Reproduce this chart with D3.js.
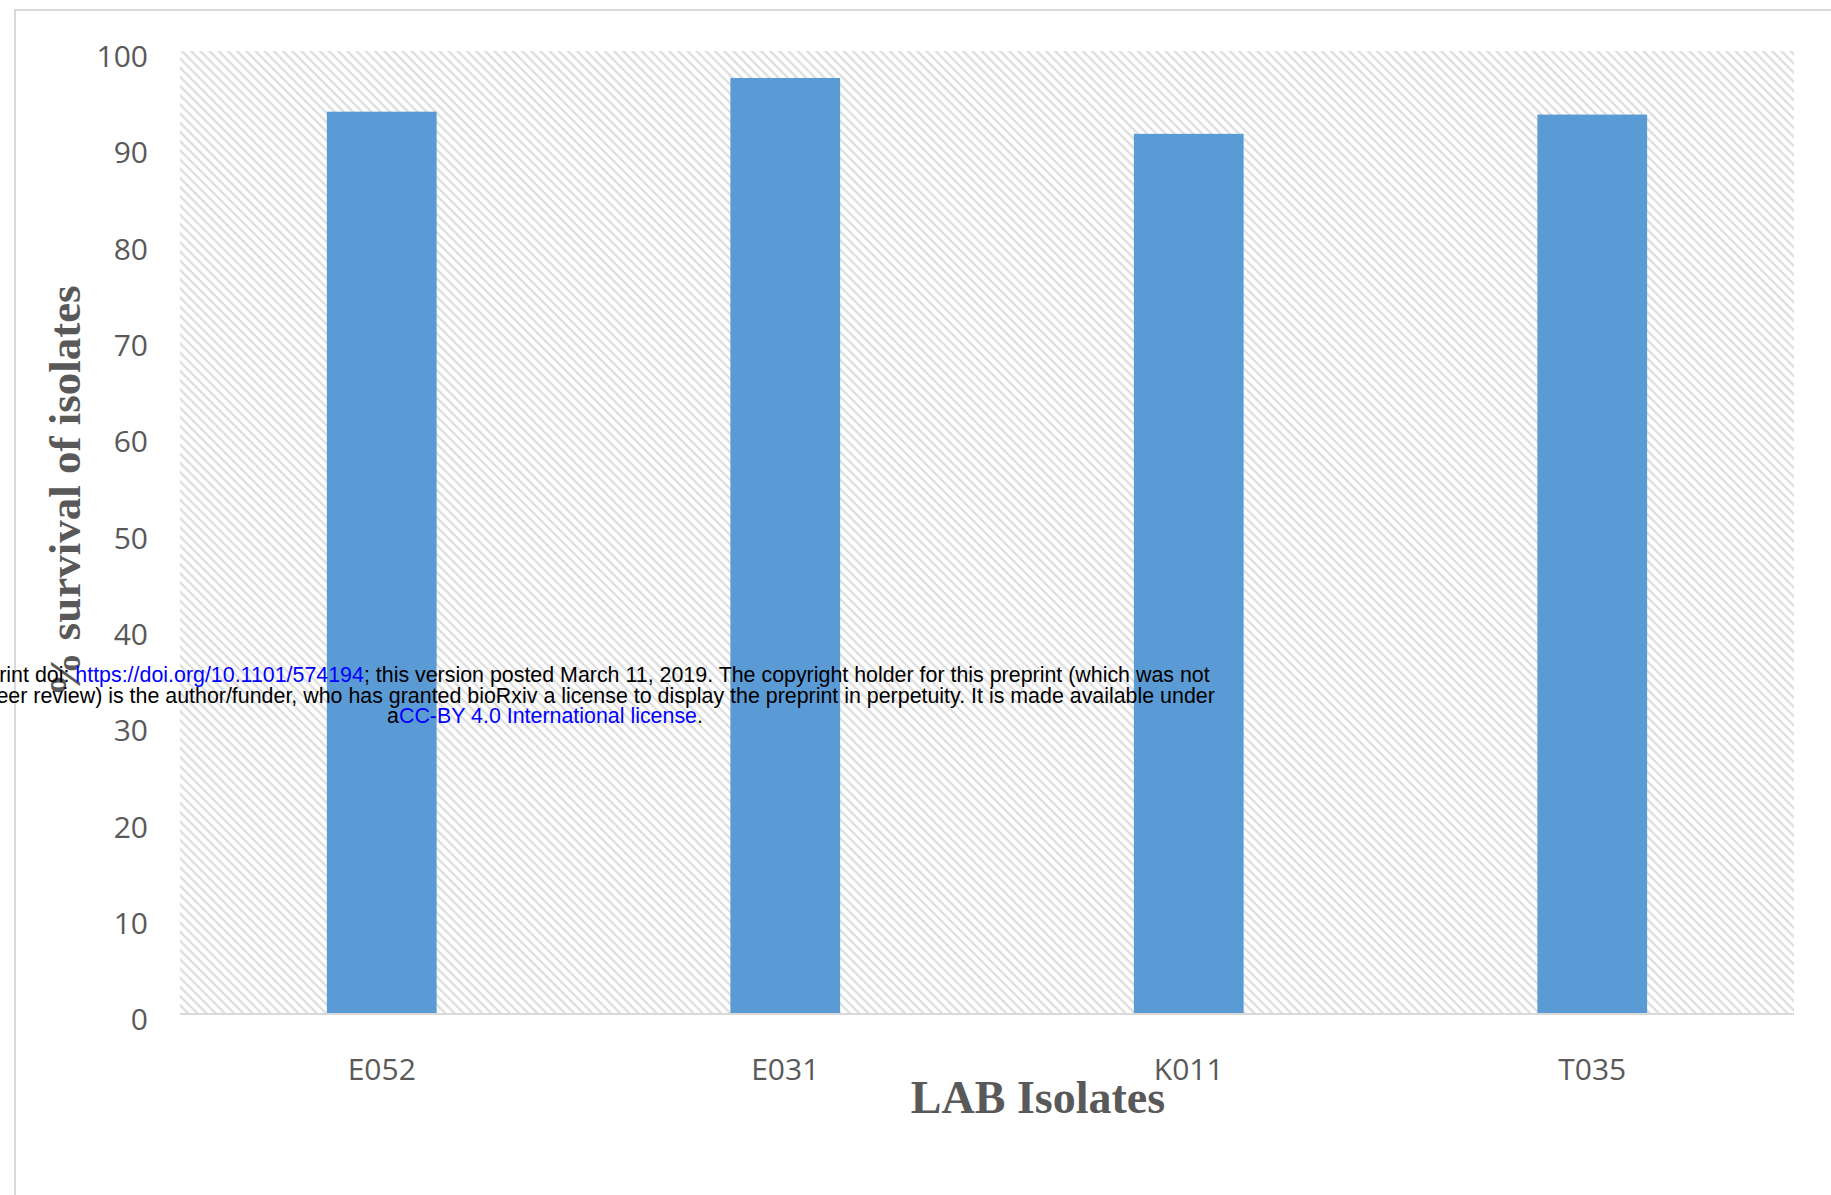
<!DOCTYPE html>
<html>
<head>
<meta charset="utf-8">
<script src="https://cdn.jsdelivr.net/npm/d3@7"></script>
<style>
  html, body { margin: 0; padding: 0; background: #fff; overflow: hidden; }
</style>
</head>
<body>
<div id="chart"></div>
<script>
(function(d3) {
    "use strict";

    var isolates = ["E052", "E031", "K011", "T035"];
    var survival = [93.7, 97.2, 91.4, 93.4];
    var yTicks = [0, 10, 20, 30, 40, 50, 60, 70, 80, 90, 100];

    var W = 1831, H = 1195;
    var plot = { left: 180, right: 1794, top: 51, bottom: 1014 };
    var grey = "#595959";

    var svg = d3.select("#chart").append("svg")
        .attr("width", W)
        .attr("height", H);

    // diagonal hatch for the plot area
    var defs = svg.append("defs");
    var pat = defs.append("pattern")
        .attr("id", "hatch")
        .attr("patternUnits", "userSpaceOnUse")
        .attr("width", 6.5)
        .attr("height", 6.5)
        .attr("patternTransform", "rotate(-45)");
    pat.append("rect").attr("width", 6.5).attr("height", 6.5).attr("fill", "#fff");
    pat.append("line")
        .attr("x1", 1.5).attr("y1", 0)
        .attr("x2", 1.5).attr("y2", 6.5)
        .attr("stroke", "#dadada")
        .attr("stroke-width", 2.1);

    // outer chart frame
    svg.append("rect")
        .attr("x", 15).attr("y", 10)
        .attr("width", 1830).attr("height", 1400)
        .attr("fill", "none")
        .attr("stroke", "#d9d9d9")
        .attr("stroke-width", 2);

    var x = d3.scaleBand()
        .domain(isolates)
        .range([plot.left, plot.right])
        .padding(0);

    var y = d3.scaleLinear()
        .domain([0, 100])
        .range([plot.bottom, plot.top]);

    svg.append("rect")
        .attr("x", plot.left)
        .attr("y", y(100))
        .attr("width", plot.right - plot.left)
        .attr("height", y(0) - y(100))
        .attr("fill", "url(#hatch)");

    var barW = x.bandwidth() * 0.272;

    svg.append("g").selectAll("rect")
        .data(isolates)
        .join("rect")
        .attr("x", function(d) { return x(d) + x.bandwidth() / 2 - barW / 2; })
        .attr("y", function(d, i) { return y(survival[i]); })
        .attr("width", barW)
        .attr("height", function(d, i) { return y(0) - y(survival[i]); })
        .attr("fill", "#5b9bd5");

    // baseline
    svg.append("line")
        .attr("x1", plot.left).attr("x2", plot.right)
        .attr("y1", y(0)).attr("y2", y(0))
        .attr("stroke", "#d9d9d9")
        .attr("stroke-width", 2);

    var yAxis = svg.append("g")
        .attr("transform", "translate(" + (plot.left - 32) + ",0)")
        .call(d3.axisLeft(y).tickValues(yTicks).tickSize(0).tickPadding(0));
    yAxis.select(".domain").remove();
    yAxis.selectAll("text")
        .attr("dy", "0.52em")
        .style("font-family", "'Open Sans', sans-serif")
        .style("font-size", "30px")
        .attr("fill", grey);

    var xAxis = svg.append("g")
        .attr("transform", "translate(0," + y(0) + ")")
        .call(d3.axisBottom(x).tickSize(0).tickPadding(0));
    xAxis.select(".domain").remove();
    xAxis.selectAll("text")
        .attr("y", 66)
        .attr("dy", 0)
        .style("font-family", "'Open Sans', sans-serif")
        .style("font-size", "30px")
        .attr("fill", grey);

    // axis titles
    svg.append("text")
        .attr("x", 1038)
        .attr("y", 1113)
        .attr("text-anchor", "middle")
        .style("font-family", "'Liberation Serif', 'Times New Roman', serif")
        .style("font-weight", "bold")
        .style("font-size", "46px")
        .attr("fill", grey)
        .text("LAB Isolates");

    svg.append("text")
        .attr("transform", "translate(80,491) rotate(-90)")
        .attr("text-anchor", "middle")
        .style("font-family", "'Liberation Serif', 'Times New Roman', serif")
        .style("font-weight", "bold")
        .style("font-size", "45px")
        .attr("fill", grey)
        .text("% survival of isolates");

    // bioRxiv stamp over the figure
    var stamp = [
        [["bioRxiv preprint doi: ", "#000"], ["https://doi.org/10.1101/574194", "#0000ff"],
         ["; this version posted March 11, 2019. The copyright holder for this preprint (which was not", "#000"]],
        [["certified by peer review) is the author/funder, who has granted bioRxiv a license to display the preprint in perpetuity. It is made available under", "#000"]],
        [["a", "#000"], ["CC-BY 4.0 International license", "#0000ff"], [".", "#000"]]
    ];
    var stampY = [682, 703, 723];

    stamp.forEach(function(line, i) {
        var t = svg.append("text")
            .attr("x", 545)
            .attr("y", stampY[i])
            .attr("text-anchor", "middle")
            .style("font-family", "'Liberation Sans', Arial, sans-serif")
            .style("font-size", "21.4px");
        line.forEach(function(part) {
            t.append("tspan").attr("fill", part[1]).text(part[0]);
        });
    });

})(d3);
</script>
</body>
</html>
